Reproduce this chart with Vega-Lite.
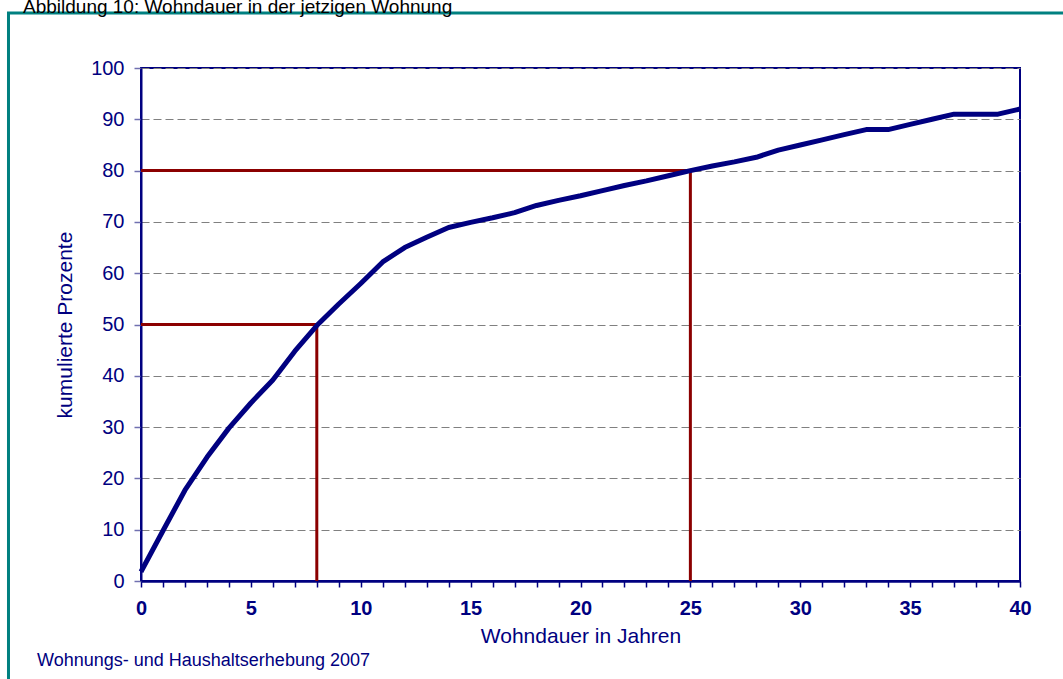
{
  "$schema": "https://vega.github.io/schema/vega-lite/v6.json",
  "width": 879,
  "height": 513,
  "autosize": "none",
  "padding": {"left": 141, "top": 68, "right": 43, "bottom": 98},
  "background": "white",
  "config": {
    "font": "Liberation Sans",
    "view": {"stroke": "#000080", "strokeWidth": 2},
    "axis": {"labelFlush": false, "labelOverlap": false}
  },
  "title": {
    "text": "Abbildung 10: Wohndauer in der jetzigen Wohnung",
    "anchor": "start",
    "frame": "group",
    "dx": -118,
    "offset": 0,
    "dy": 5,
    "fontSize": 19,
    "fontWeight": "normal",
    "color": "black",
    "font": "Liberation Sans"
  },
  "datasets": {
    "curve": [
      {"year": 0, "pct": 1.8}, {"year": 1, "pct": 9.8}, {"year": 2, "pct": 17.7},
      {"year": 3, "pct": 24.1}, {"year": 4, "pct": 29.8}, {"year": 5, "pct": 34.7},
      {"year": 6, "pct": 39.2}, {"year": 7, "pct": 44.8}, {"year": 8, "pct": 49.8},
      {"year": 9, "pct": 54}, {"year": 10, "pct": 58}, {"year": 11, "pct": 62.2},
      {"year": 12, "pct": 65}, {"year": 13, "pct": 67}, {"year": 14, "pct": 68.9},
      {"year": 15, "pct": 69.9}, {"year": 16, "pct": 70.8}, {"year": 17, "pct": 71.8},
      {"year": 18, "pct": 73.2}, {"year": 19, "pct": 74.2}, {"year": 20, "pct": 75.1},
      {"year": 21, "pct": 76.1}, {"year": 22, "pct": 77.1}, {"year": 23, "pct": 78.0},
      {"year": 24, "pct": 79.0}, {"year": 25, "pct": 80}, {"year": 26, "pct": 80.9},
      {"year": 27, "pct": 81.7}, {"year": 28, "pct": 82.6}, {"year": 29, "pct": 84},
      {"year": 30, "pct": 85}, {"year": 31, "pct": 86}, {"year": 32, "pct": 87},
      {"year": 33, "pct": 88}, {"year": 34, "pct": 88}, {"year": 35, "pct": 89},
      {"year": 36, "pct": 90}, {"year": 37, "pct": 91}, {"year": 38, "pct": 91},
      {"year": 39, "pct": 91}, {"year": 40, "pct": 92}
    ],
    "refs": [
      {"year": 0, "year2": 8, "pct": 50, "pct2": 50},
      {"year": 8, "year2": 8, "pct": 0, "pct2": 50},
      {"year": 0, "year2": 25, "pct": 80, "pct2": 80},
      {"year": 25, "year2": 25, "pct": 0, "pct2": 80}
    ],
    "note": [
      {"label": "Wohnungs- und Haushaltserhebung 2007"}
    ]
  },
  "layer": [
    {
      "data": {"name": "refs"},
      "mark": {"type": "rule", "color": "#8B0000", "strokeWidth": 3},
      "encoding": {
        "x": {
          "field": "year",
          "type": "quantitative",
          "scale": {"domain": [0, 40], "nice": false, "zero": false},
          "axis": {
            "title": "Wohndauer in Jahren",
            "values": [0,1,2,3,4,5,6,7,8,9,10,11,12,13,14,15,16,17,18,19,20,21,22,23,24,25,26,27,28,29,30,31,32,33,34,35,36,37,38,39,40],
            "tickCount": 41,
            "labelExpr": "datum.value % 5 === 0 ? datum.label : ''",
            "grid": false,
            "domainColor": "#000080",
            "domainWidth": 2.5,
            "tickColor": "#000080",
            "tickWidth": 1.5,
            "tickSize": 6,
            "labelColor": "#000080",
            "labelFont": "Liberation Sans",
            "labelFontSize": 20,
            "labelFontWeight": "bold",
            "labelPadding": 11,
            "labelFlush": false,
            "labelOverlap": false,
            "titleColor": "#000080",
            "titleFont": "Liberation Sans",
            "titleFontSize": 21,
            "titleFontWeight": "normal",
            "titlePadding": 7
          }
        },
        "x2": {"field": "year2"},
        "y": {
          "field": "pct",
          "type": "quantitative",
          "scale": {"domain": [0, 100], "nice": false},
          "axis": {
            "title": "kumulierte Prozente",
            "values": [0,10,20,30,40,50,60,70,80,90,100],
            "grid": true,
            "gridColor": "#808080",
            "gridDash": [8, 4],
            "gridWidth": 1,
            "domainColor": "#000080",
            "domainWidth": 2,
            "tickColor": "#7070B0",
            "tickWidth": 1.5,
            "tickSize": 7,
            "labelColor": "#000080",
            "labelFont": "Liberation Sans",
            "labelFontSize": 20,
            "labelPadding": 10,
            "labelFlush": false,
            "titleColor": "#000080",
            "titleFont": "Liberation Sans",
            "titleFontSize": 21,
            "titleFontWeight": "normal",
            "titlePadding": 15
          }
        },
        "y2": {"field": "pct2"}
      }
    },
    {
      "data": {"name": "curve"},
      "mark": {"type": "line", "color": "#000080", "strokeWidth": 5, "strokeJoin": "round"},
      "encoding": {
        "x": {"field": "year", "type": "quantitative"},
        "y": {"field": "pct", "type": "quantitative"}
      }
    },
    {
      "data": {"name": "note"},
      "mark": {"type": "rect", "fill": "transparent", "stroke": "#008080", "strokeWidth": 3, "clip": false},
      "encoding": {
        "x": {"datum": -6.03, "type": "quantitative"},
        "x2": {"datum": 42.2},
        "y": {"datum": 110.7, "type": "quantitative"},
        "y2": {"datum": -22}
      }
    },
    {
      "data": {"name": "note"},
      "mark": {"type": "text", "align": "left", "baseline": "alphabetic", "fontSize": 18, "color": "#000080", "font": "Liberation Sans", "clip": false},
      "encoding": {
        "text": {"field": "label"},
        "x": {"datum": -4.73, "type": "quantitative"},
        "y": {"datum": -16.6, "type": "quantitative"}
      }
    }
  ]
}
